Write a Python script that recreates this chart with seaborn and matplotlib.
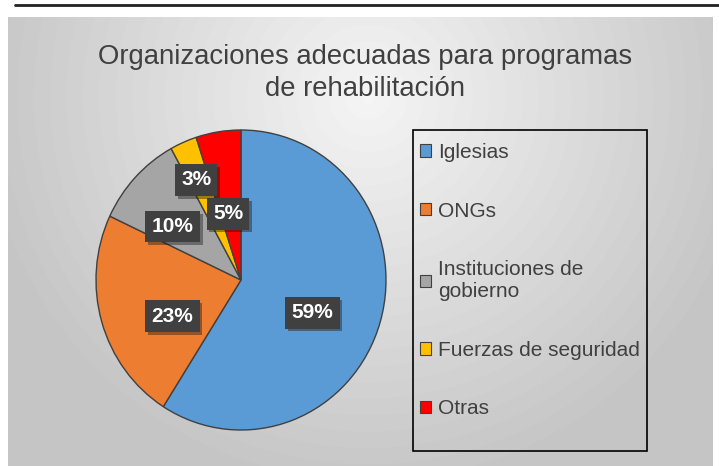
import matplotlib.pyplot as plt
import matplotlib.patheffects as pe
from matplotlib.lines import Line2D
from matplotlib.patches import Patch, Rectangle
import seaborn as sns
import numpy as np


def runChart() -> None:
    sns.set_style("white")
    plt.rcParams["font.family"] = ["Liberation Sans", "DejaVu Sans"]

    # Data
    labels = ["Iglesias", "ONGs", "Instituciones de\ngobierno", "Fuerzas de seguridad", "Otras"]
    values = [59, 23, 10, 3, 5]
    colors = ["#5B9BD5", "#ED7D31", "#A5A5A5", "#FFC000", "#FF0000"]
    labelDist = [0.54, 0.53, 0.59, 0.735, 0.45]  # Where each % box sits along the radius
    labelTurn = [-7.7, 10.8, 6.2, 1.5, 2.5]  # Small angle nudges (degrees), Excel "best fit"

    fig = plt.figure(figsize=(7.19, 4.66), dpi=100)

    # Gray radial background of the chart area
    bg = fig.add_axes([8 / 719, 0, 705 / 719, 449 / 466])
    yy, xx = np.mgrid[0:449, 0:705]
    dist = np.sqrt(((xx - 360) / 420) ** 2 + ((yy - 80) / 420) ** 2)
    shade = np.clip(0.96 - 0.2 * dist, 0.77, 0.96)
    bg.imshow(shade, cmap="gray", vmin=0, vmax=1, aspect="auto")
    bg.axis("off")

    # Top rule above the chart
    fig.add_artist(Line2D([15 / 719, 1], [1 - 5 / 466, 1 - 5 / 466], color="#222222", lw=2))

    fig.text(
        365 / 719, 1 - 73 / 466,
        "Organizaciones adecuadas para programas\nde rehabilitación",
        ha="center", va="center", fontsize=19.8, color="#404040", linespacing=1.3,
    )

    ax = fig.add_axes([(241 - 145) / 719, (466 - 280 - 150) / 466, 290 / 719, 300 / 466])
    wedges, _ = ax.pie(
        values,
        colors=colors,
        startangle=90,
        counterclock=False,
        wedgeprops={"edgecolor": "#404040", "linewidth": 1},
    )
    ax.set_aspect("auto")
    ax.set_xlim(-1, 1)
    ax.set_ylim(-1, 1)

    for w, v, d, turn in zip(wedges, values, labelDist, labelTurn):
        ang = np.deg2rad((w.theta1 + w.theta2) / 2 + turn)
        t = ax.text(
            d * np.cos(ang), d * np.sin(ang), f"{v}%",
            ha="center", va="center", color="white", fontsize=15, fontweight="bold",
            bbox={"boxstyle": "square,pad=0.3", "fc": "#404040", "ec": "none"},
        )
        t.get_bbox_patch().set_path_effects([pe.withSimplePatchShadow(offset=(2, -2), alpha=0.4)])

    # Legend with its own frame
    fig.add_artist(
        Rectangle((413 / 719, 1 - 451 / 466), 234 / 719, 321 / 466,
                  transform=fig.transFigure, fill=False, ec="black", lw=1.2)
    )
    handles = [Patch(facecolor=c, edgecolor="#404040", lw=0.8) for c in colors]
    fig.legend(
        handles, labels,
        loc="upper left", bbox_to_anchor=(420 / 719, 1 - 143 / 466),
        frameon=False, fontsize=15, labelcolor="#404040",
        handlelength=0.55, handleheight=0.55, handletextpad=0.3, labelspacing=1.9,
        borderpad=0, borderaxespad=0,
    )

    plt.savefig("out.png", dpi=100)
    plt.close()


if __name__ == "__main__":
    runChart()
